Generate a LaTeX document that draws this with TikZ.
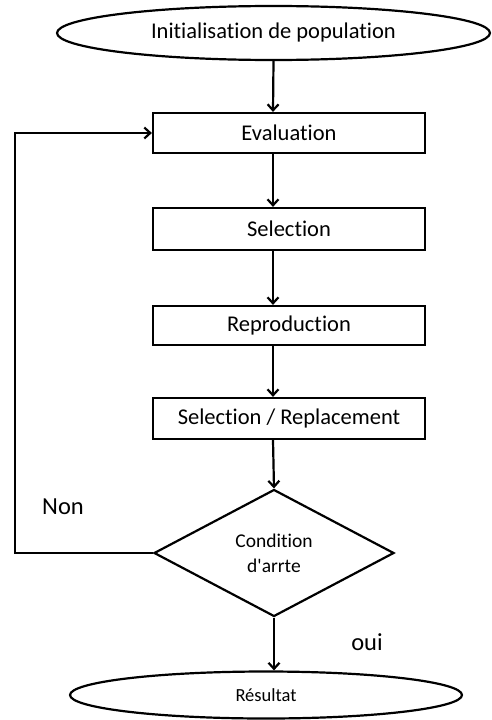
\documentclass[tikz,border=0pt]{standalone}
\usepackage{fontspec}
\setmainfont{Carlito}[Ligatures={TeX,NoCommon}]
\usetikzlibrary{shapes.geometric,arrows.meta}

\tikzset{
  line/.style={draw=black, line width=2.2pt},
  flow/.style={line, -{Straight Barb[length=6pt,width=11pt,line width=2.2pt]}},
  stepbox/.style={line, rectangle, minimum width=272pt, inner sep=0pt, font=\fontsize{22.5}{27}\selectfont},
  terminal/.style={line, ellipse, inner sep=0pt},
  decision/.style={line, diamond, inner sep=0pt, minimum width=240pt, minimum height=127pt,
                   align=center, font=\fontsize{19.5}{25}\selectfont},
  tag/.style={font=\fontsize{24.5}{28}\selectfont}
}

\begin{document}
\begin{tikzpicture}[x=1pt, y=-1pt]
  \useasboundingbox (0,0) rectangle (491,720);

  % vertical spine of the main flow
  \coordinate (spine) at (273,0);

  \node[terminal, minimum width=433pt, minimum height=54pt, font=\fontsize{22.5}{27}\selectfont]
    (init) at (273.5,33) {Initialisation de population};

  \node[stepbox, minimum height=40pt] (eval)   at (289,133)   {Evaluation};
  \node[stepbox, minimum height=42pt] (sel)    at (289,229)   {Selection};
  \node[stepbox, minimum height=39pt] (repro)  at (289,325.5) {Reproduction};
  \node[stepbox, minimum height=41pt] (selrep) at (289,418.5) {Selection / Replacement};

  \node[decision] (cond) at (274,553) {Condition\\d\textquotesingle arrte};

  \node[terminal, minimum width=392pt, minimum height=47pt, font=\fontsize{18.5}{22}\selectfont]
    (res) at (266,695) {Résultat};

  % main sequence
  \draw[flow] (init.south) -- (spine |- eval.north);
  \draw[flow] (spine |- eval.south) -- (spine |- sel.north);
  \draw[flow] (spine |- sel.south) -- (spine |- repro.north);
  \draw[flow] (spine |- repro.south) -- (spine |- selrep.north);
  \draw[flow] (spine |- selrep.south) -- (cond.north);
  \draw[flow] (cond.south) -- (cond.south |- res.north);

  % loop back when the stop condition fails
  \coordinate (loop) at (15,553);
  \draw[flow] (cond.west) -- (loop) |- (eval.west);

  \node[tag] (non) at (63,507) {Non};
  \node[tag] (oui) at (367,642) {oui};
\end{tikzpicture}
\end{document}
